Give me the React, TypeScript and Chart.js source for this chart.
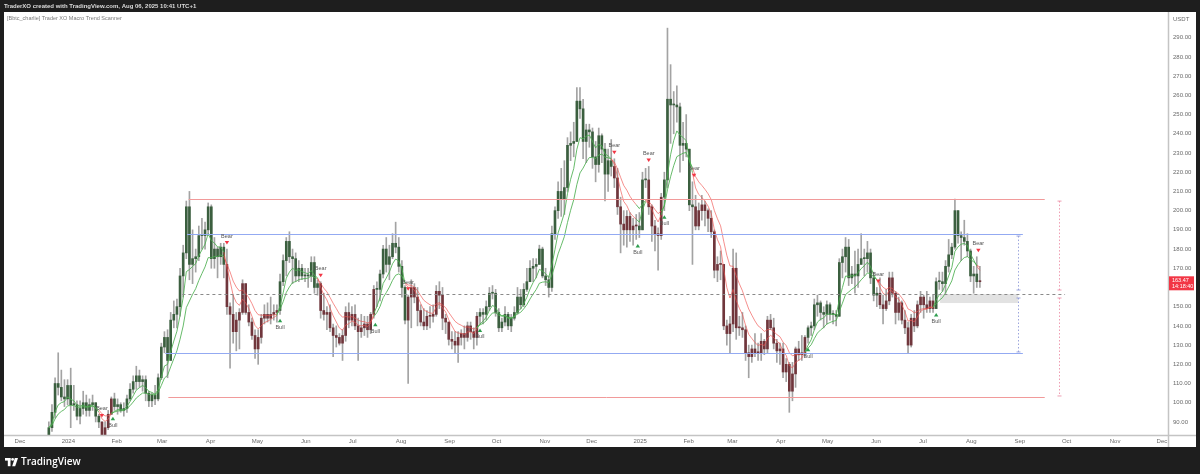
import React, { useEffect, useRef } from 'react';
import { Chart, registerables } from 'chart.js';
Chart.register(...registerables);

// Day index 0 = 2024-01-01. Each candle covers two days.
const FIRST_DAY = -13;
const CANDLE_DAYS = 2;
const firstOpen = 75;

const closes = [
  87, 95, 110, 108, 103, 102, 109, 99, 99, 93,
  97, 100, 96, 99, 100, 93, 90, 83, 87, 94,
  102, 98, 99, 96, 97, 102, 107, 111, 114, 111,
  112, 105, 101, 104, 102, 113, 129, 134, 122, 143,
  146, 150, 166, 178, 202, 172, 175, 176, 187, 187,
  190, 202, 175, 180, 176, 181, 172, 150, 146, 137,
  143, 147, 162, 147, 142, 135, 128, 134, 144, 146,
  144, 146, 147, 148, 163, 174, 184, 176, 175, 166,
  170, 166, 166, 166, 173, 160, 162, 148, 146, 147,
  139, 135, 134, 131, 135, 147, 143, 146, 140, 137,
  139, 141, 138, 146, 159, 159, 167, 180, 172, 176,
  183, 181, 171, 160, 143, 155, 160, 155, 148, 142,
  140, 145, 145, 146, 158, 156, 144, 142, 133, 132,
  130, 134, 136, 134, 140, 137, 134, 145, 147, 146,
  150, 157, 157, 147, 139, 142, 146, 140, 144, 147,
  155, 151, 159, 163, 170, 171, 172, 180, 166, 164,
  160, 188, 200, 210, 206, 212, 234, 235, 236, 257,
  253, 236, 242, 241, 228, 224, 239, 232, 219, 226,
  223, 217, 202, 193, 190, 197, 190, 192, 192, 190,
  216, 216, 202, 192, 188, 187, 207, 216, 258, 255,
  255, 254, 234, 235, 232, 203, 202, 192, 200, 203,
  200, 196, 189, 169, 172, 172, 140, 136, 141, 170,
  139, 139, 138, 126, 124, 128, 126, 126, 132, 128,
  143, 139, 131, 127, 128, 116, 120, 106, 115, 128,
  125, 126, 134, 139, 140, 151, 152, 147, 146, 151,
  146, 146, 145, 173, 176, 181, 165, 167, 166, 172,
  175, 175, 178, 165, 156, 157, 151, 149, 153, 165,
  157, 147, 152, 143, 139, 130, 144, 140, 151, 155,
  151, 149, 153, 149, 163, 163, 162, 171, 177, 181,
  200, 187, 186, 184, 179, 166, 167, 163, 163.47,
];

const highs = [
  90, 99, 113, 126, 117, 112, 112, 118, 109, 101,
  101, 106, 104, 102, 104, 100, 94, 90, 90, 96,
  103, 105, 102, 100, 100, 104, 110, 114, 119, 117,
  114, 114, 106, 105, 109, 115, 131, 137, 138, 147,
  153, 154, 170, 182, 205, 210, 190, 180, 192, 196,
  194, 204, 203, 186, 181, 183, 183, 180, 152, 156,
  147, 149, 164, 162, 151, 144, 138, 138, 146, 151,
  152, 155, 151, 151, 167, 177, 186, 189, 180, 178,
  174, 172, 170, 170, 176, 176, 164, 163, 157, 150,
  151, 141, 140, 136, 138, 150, 152, 150, 151, 144,
  146, 145, 145, 147, 161, 163, 169, 182, 186, 182,
  188, 194, 186, 174, 161, 156, 164, 162, 160, 151,
  149, 148, 150, 151, 161, 163, 160, 146, 142, 137,
  137, 137, 138, 140, 142, 142, 139, 147, 149, 149,
  153, 160, 161, 159, 149, 144, 150, 147, 146, 150,
  160, 159, 162, 170, 174, 175, 175, 182, 181, 170,
  166, 192, 202, 215, 222, 226, 238, 241, 246, 264,
  264, 258, 245, 245, 243, 236, 243, 240, 235, 232,
  237, 227, 222, 207, 200, 200, 199, 196, 198, 199,
  220, 222, 223, 203, 195, 191, 209, 220, 295, 276,
  262, 265, 256, 246, 250, 232, 215, 208, 204, 208,
  205, 201, 200, 190, 176, 179, 172, 143, 145, 180,
  178, 145, 147, 140, 130, 130, 136, 131, 136, 133,
  145, 146, 144, 133, 131, 131, 123, 121, 121, 129,
  132, 135, 135, 140, 142, 154, 156, 153, 150, 153,
  152, 148, 148, 175, 180, 186, 185, 171, 179, 180,
  188, 180, 184, 180, 168, 160, 165, 156, 159, 168,
  168, 158, 155, 153, 148, 142, 146, 148, 153, 158,
  156, 158, 155, 156, 165, 168, 168, 174, 185, 183,
  206, 200, 189, 195, 188, 180, 171, 176, 171,
];

const lows = [
  73, 85, 92, 104, 101, 98, 99, 87, 96, 91,
  89, 94, 93, 93, 96, 90, 87, 79, 82, 86,
  95, 96, 94, 95, 93, 95, 101, 105, 107, 108,
  106, 101, 98, 98, 99, 101, 112, 126, 113, 122,
  139, 139, 145, 155, 175, 164, 162, 168, 174, 180,
  180, 187, 170, 170, 165, 172, 165, 146, 118, 131,
  127, 128, 146, 146, 140, 133, 123, 120, 131, 141,
  142, 141, 143, 142, 146, 161, 166, 173, 162, 163,
  163, 164, 163, 160, 163, 157, 156, 144, 143, 138,
  137, 124, 129, 130, 122, 132, 139, 140, 138, 122,
  134, 135, 134, 136, 144, 150, 153, 165, 168, 164,
  175, 178, 168, 155, 141, 110, 139, 152, 140, 140,
  138, 138, 139, 142, 145, 149, 138, 136, 130, 128,
  126, 121, 130, 128, 132, 133, 128, 130, 141, 141,
  143, 148, 154, 145, 137, 137, 140, 138, 137, 143,
  146, 149, 150, 158, 163, 163, 165, 172, 165, 161,
  155, 158, 185, 196, 197, 198, 210, 226, 228, 236,
  248, 227, 225, 233, 222, 215, 220, 225, 205, 210,
  218, 212, 198, 178, 182, 181, 184, 182, 185, 186,
  190, 212, 198, 184, 179, 169, 185, 200, 212, 235,
  240, 246, 220, 226, 228, 200, 172, 190, 190, 195,
  192, 189, 186, 165, 163, 164, 138, 130, 126, 137,
  133, 135, 134, 122, 113, 121, 124, 122, 122, 125,
  126, 138, 128, 121, 120, 113, 111, 95, 101, 108,
  122, 122, 124, 131, 135, 138, 145, 143, 139, 141,
  143, 141, 140, 145, 165, 168, 161, 162, 157, 160,
  172, 166, 168, 162, 153, 150, 149, 141, 148, 151,
  155, 141, 143, 141, 136, 126, 129, 137, 139, 147,
  144, 147, 147, 147, 149, 159, 158, 157, 168, 175,
  180, 183, 174, 182, 176, 163, 157, 160, 160,
];

// Trend-scanner signals (day index) and their kind
const signalDays = [21, 28, 101, 135, 161, 196, 217, 263, 349, 364, 371, 381, 400, 473, 518, 555, 582];
const signalTypes = ['Bear', 'Bull', 'Bear', 'Bull', 'Bear', 'Bull', 'Bear', 'Bull', 'Bear', 'Bull', 'Bear', 'Bull', 'Bear', 'Bull', 'Bear', 'Bull', 'Bear'];

// Horizontal drawn levels
const levelPrices = [206, 187.8, 156.6, 125.9, 103];
const levelFromDays = [77, 76, 73, 62, 64];
const levelToDays = [625, 611, 638, 611, 625];
const levelKinds = ['range', 'inner', 'mid', 'inner', 'range'];

// Grey zone
const zoneLow = 151.9;
const zoneHigh = 156.6;
const zoneFromDay = 558;
const zoneToDay = 608;

// Measure lines: day, top, bottom (two halves)
const measureDays = [608, 634];
const measureTops = [187.8, 206];
const measureMids = [156.6, 156.6];
const measureBottoms = [125.9, 103];

const priceTicks = [290, 280, 270, 260, 250, 240, 230, 220, 210, 200, 190, 180, 170, 150, 140, 130, 120, 110, 100, 90];
const timeTickDays = [-31, 0, 31, 60, 91, 121, 152, 182, 213, 244, 274, 305, 335, 366, 397, 425, 456, 486, 517, 547, 578, 609, 639, 670, 700];
const timeTickLabels = ['Dec', '2024', 'Feb', 'Mar', 'Apr', 'May', 'Jun', 'Jul', 'Aug', 'Sep', 'Oct', 'Nov', 'Dec', '2025', 'Feb', 'Mar', 'Apr', 'May', 'Jun', 'Jul', 'Aug', 'Sep', 'Oct', 'Nov', 'Dec'];

const countdown = '14:18:40';
const headerText = 'TraderXO created with TradingView.com, Aug 06, 2025 10:41 UTC+1';
const indicatorTitle = '[Bbtc_charlie] Trader XO Macro Trend Scanner';

function ema(values: number[], period: number) {
  const a = 2 / (period + 1);
  const out: number[] = [];
  let prev = values[0];
  values.forEach((v, i) => {
    prev = i === 0 ? v : a * v + (1 - a) * prev;
    out.push(prev);
  });
  return out;
}

function trendAt(day: number) {
  let t = 'Bull';
  for (let i = 0; i < signalDays.length; i++) if (signalDays[i] <= day) t = signalTypes[i];
  return t;
}

const UI_FONT = '"Liberation Sans", "DejaVu Sans", sans-serif';

export default function App() {
  const ref = useRef<HTMLCanvasElement>(null);
  useEffect(() => {
    const canvas = ref.current!;
    const opens = closes.map((c, i) => (i === 0 ? firstOpen : closes[i - 1]));
    const xs = closes.map((_, i) => FIRST_DAY + i * CANDLE_DAYS + 0.5);
    const fast = ema(closes, 6);
    const slow = ema(closes, 12);
    const trend = xs.map((x) => trendAt(x));
    const UP = '#3b5f3f';
    const DOWN = '#70363c';
    const bodyColors = trend.map((t) => (t === 'Bull' ? UP : DOWN));
    const lineCol = (i: number) => (trend[i] === 'Bull' ? 'rgba(76,175,80,0.85)' : 'rgba(239,83,80,0.65)');

    const overlay = {
      id: 'overlay',
      beforeDraw(chart: any) {
        const { ctx } = chart;
        const sx = chart.scales.x, sy = chart.scales.y;
        ctx.save();
        ctx.fillStyle = '#1e1e1e';
        ctx.fillRect(0, 0, chart.width, chart.height);
        ctx.fillStyle = '#ffffff';
        ctx.fillRect(4, 12, 1192, 435);
        ctx.fillStyle = '#dcdcdc';
        ctx.font = '600 6px ' + UI_FONT;
        ctx.textBaseline = 'middle';
        ctx.textAlign = 'left';
        ctx.fillText(headerText, 4, 6.5);
        // grey zone
        const zx0 = sx.getPixelForValue(zoneFromDay), zx1 = sx.getPixelForValue(zoneToDay);
        const zy0 = sy.getPixelForValue(zoneHigh), zy1 = sy.getPixelForValue(zoneLow);
        ctx.fillStyle = 'rgba(190,190,190,0.45)';
        ctx.fillRect(zx0, zy0, zx1 - zx0, zy1 - zy0);
        ctx.restore();
      },
      afterDatasetsDraw(chart: any) {
        const { ctx } = chart;
        const sx = chart.scales.x, sy = chart.scales.y;
        ctx.save();
        // levels
        levelPrices.forEach((p, i) => {
          const y = Math.round(sy.getPixelForValue(p)) + 0.5;
          const kind = levelKinds[i];
          ctx.beginPath();
          ctx.lineWidth = 1;
          if (kind === 'mid') {
            ctx.setLineDash([3, 3]);
            ctx.strokeStyle = '#8a8a8a';
          } else {
            ctx.setLineDash([]);
            ctx.strokeStyle = kind === 'range' ? '#f19a9a' : '#93aaf2';
          }
          ctx.moveTo(sx.getPixelForValue(levelFromDays[i]), y);
          ctx.lineTo(sx.getPixelForValue(levelToDays[i]), y);
          ctx.stroke();
        });
        // measure lines
        measureDays.forEach((d, i) => {
          const x = Math.round(sx.getPixelForValue(d)) + 0.5;
          const col = i === 0 ? 'rgba(140,150,215,0.85)' : 'rgba(236,140,165,0.85)';
          ctx.strokeStyle = col;
          ctx.setLineDash([1.5, 2]);
          ctx.lineWidth = 1;
          const yTop = sy.getPixelForValue(measureTops[i]);
          const yMid = sy.getPixelForValue(measureMids[i]);
          const yBot = sy.getPixelForValue(measureBottoms[i]);
          ctx.beginPath();
          ctx.moveTo(x, yTop + 2);
          ctx.lineTo(x, yMid - 4);
          ctx.moveTo(x, yMid + 4);
          ctx.lineTo(x, yBot - 1);
          ctx.stroke();
          ctx.setLineDash([]);
          ctx.beginPath();
          [yTop + 2, yMid - 4, yMid + 4, yBot - 1].forEach((yy) => {
            ctx.moveTo(x - 2, yy);
            ctx.lineTo(x + 2, yy);
          });
          ctx.stroke();
        });
        // signals
        ctx.font = '5.5px ' + UI_FONT;
        ctx.textAlign = 'center';
        ctx.textBaseline = 'middle';
        signalDays.forEach((d, i) => {
          const k = Math.max(0, Math.min(closes.length - 1, Math.floor((d - FIRST_DAY) / CANDLE_DAYS)));
          const x = sx.getPixelForValue(d + 0.5);
          if (signalTypes[i] === 'Bear') {
            const yh = sy.getPixelForValue(highs[k]);
            const ty = yh - 6;
            ctx.fillStyle = '#f23645';
            ctx.beginPath();
            ctx.moveTo(x - 2.2, ty - 2);
            ctx.lineTo(x + 2.2, ty - 2);
            ctx.lineTo(x, ty + 1.5);
            ctx.closePath();
            ctx.fill();
            ctx.fillStyle = '#555';
            ctx.fillText('Bear', x, ty - 7);
          } else {
            const yl = sy.getPixelForValue(lows[k]);
            const ty = yl + 6;
            ctx.fillStyle = '#2e9e4f';
            ctx.beginPath();
            ctx.moveTo(x - 2.2, ty + 2);
            ctx.lineTo(x + 2.2, ty + 2);
            ctx.lineTo(x, ty - 1.5);
            ctx.closePath();
            ctx.fill();
            ctx.fillStyle = '#555';
            ctx.fillText('Bull', x, ty + 7);
          }
        });
        ctx.restore();
      },
      afterDraw(chart: any) {
        const { ctx } = chart;
        const sx = chart.scales.x, sy = chart.scales.y;
        const area = chart.chartArea;
        ctx.save();
        // separators
        ctx.strokeStyle = '#c4c4c4';
        ctx.lineWidth = 1.5;
        ctx.beginPath();
        ctx.moveTo(area.right + 0.5, 12);
        ctx.lineTo(area.right + 0.5, 447);
        ctx.moveTo(4, area.bottom + 0.5);
        ctx.lineTo(1196, area.bottom + 0.5);
        ctx.stroke();
        // indicator title
        ctx.fillStyle = '#7a7a7a';
        ctx.font = '5.5px ' + UI_FONT;
        ctx.textAlign = 'left';
        ctx.textBaseline = 'middle';
        ctx.fillText(indicatorTitle, 7, 18.5);
        // price axis
        ctx.font = '6px ' + UI_FONT;
        ctx.fillStyle = '#6a6a6a';
        ctx.fillText('USDT', 1173, 19);
        priceTicks.forEach((p) => {
          ctx.fillText(p.toFixed(2), 1173, sy.getPixelForValue(p));
        });
        // time axis
        ctx.textAlign = 'center';
        timeTickDays.forEach((d, i) => {
          ctx.fillText(timeTickLabels[i], sx.getPixelForValue(d), 441.5);
        });
        // last price label
        const last = closes[closes.length - 1];
        const py = sy.getPixelForValue(last);
        ctx.fillStyle = '#f23645';
        ctx.fillRect(1169, py - 4.5, 25, 14);
        ctx.fillStyle = '#ffffff';
        ctx.font = '5.5px ' + UI_FONT;
        ctx.textAlign = 'left';
        ctx.fillText(last.toFixed(2), 1172, py);
        ctx.fillText(countdown, 1172, py + 6);
        // logo
        ctx.fillStyle = '#ffffff';
        ctx.fillRect(5, 458, 5.5, 2.6);
        ctx.fillRect(7.8, 458, 2.7, 8.2);
        ctx.beginPath();
        ctx.arc(12.6, 459.4, 1.4, 0, Math.PI * 2);
        ctx.fill();
        ctx.beginPath();
        ctx.moveTo(14.8, 458);
        ctx.lineTo(18, 458);
        ctx.lineTo(15.2, 466.2);
        ctx.lineTo(12.2, 466.2);
        ctx.closePath();
        ctx.fill();
        ctx.font = '600 10px "Open Sans", sans-serif';
        ctx.textBaseline = 'middle';
        ctx.fillText('TradingView', 21, 462.5);
        ctx.restore();
      },
    };

    const chart = new Chart(canvas, {
      type: 'bar',
      data: {
        datasets: [
          {
            type: 'line',
            label: 'fast',
            data: xs.map((x, i) => ({ x, y: fast[i] })),
            borderColor: 'rgba(76,175,80,0.85)',
            borderWidth: 1,
            pointRadius: 0,
            segment: { borderColor: (c: any) => lineCol(c.p1DataIndex) },
            order: 0,
          },
          {
            type: 'line',
            label: 'slow',
            data: xs.map((x, i) => ({ x, y: slow[i] })),
            borderColor: 'rgba(76,175,80,0.85)',
            borderWidth: 1,
            pointRadius: 0,
            segment: { borderColor: (c: any) => lineCol(c.p1DataIndex) },
            order: 0,
          },
          {
            type: 'bar',
            label: 'body',
            data: xs.map((x, i) => ({ x, y: [opens[i], closes[i]] })),
            backgroundColor: bodyColors,
            barThickness: 2,
            minBarLength: 1,
            grouped: false,
            order: 1,
          },
          {
            type: 'bar',
            label: 'wick',
            data: xs.map((x, i) => ({
              x,
              y: [Math.min(lows[i], opens[i], closes[i]), Math.max(highs[i], opens[i], closes[i])],
            })),
            backgroundColor: '#a3a3a3',
            barThickness: 1,
            grouped: false,
            order: 2,
          },
        ],
      } as any,
      options: {
        animation: false,
        responsive: false,
        devicePixelRatio: 1,
        layout: { padding: { left: 4, top: 12, right: 32, bottom: 39 } },
        plugins: { legend: { display: false }, tooltip: { enabled: false } },
        scales: {
          x: { type: 'linear', min: -41.2, max: 703.9, offset: false, display: false },
          y: { type: 'linear', min: 83.2, max: 303.4, display: false },
        },
      } as any,
      plugins: [overlay],
    });
    return () => chart.destroy();
  }, []);
  return (
    <div style={{ position: 'fixed', left: 0, top: 0, width: 1200, height: 474, background: '#1e1e1e' }}>
      <canvas ref={ref} width={1200} height={474} style={{ display: 'block', width: 1200, height: 474 }} />
    </div>
  );
}
